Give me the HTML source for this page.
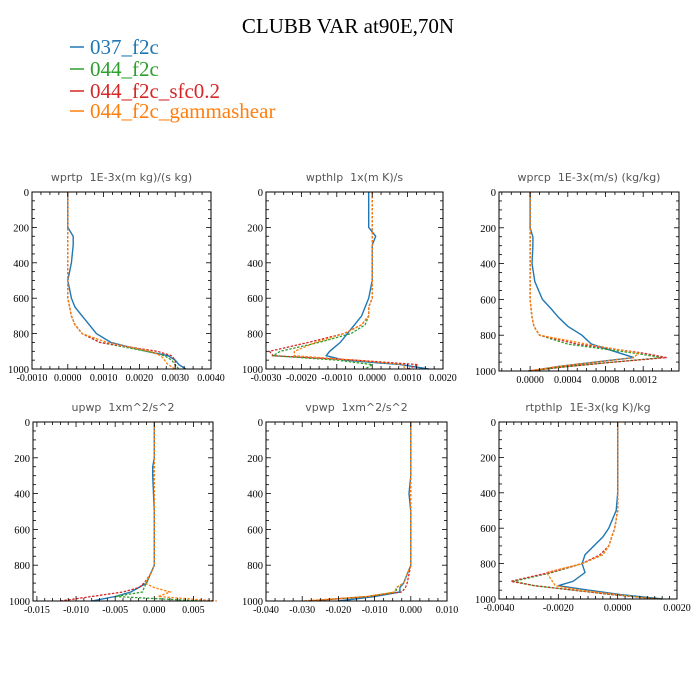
<!DOCTYPE html>
<html><head><meta charset="utf-8"><style>
body{margin:0;background:#fff;}
svg{display:block;}
</style></head><body>
<svg id="chart" width="700" height="700" xmlns="http://www.w3.org/2000/svg">
<rect width="700" height="700" fill="#fff"/>
<text x="348" y="33" font-family="Liberation Serif, serif" font-size="21" text-anchor="middle">CLUBB VAR at90E,70N</text>
<g font-family="Liberation Serif, serif" font-size="21">
<g><line x1="70" y1="47" x2="84" y2="47" stroke="#1f77b4" stroke-width="1.5"/><text x="90" y="54" fill="#1f77b4">037_f2c</text></g>
<g><line x1="70" y1="69" x2="84" y2="69" stroke="#2ca02c" stroke-width="1.5"/><text x="90" y="76" fill="#2ca02c">044_f2c</text></g>
<g><line x1="70" y1="91" x2="84" y2="91" stroke="#d62728" stroke-width="1.5"/><text x="90" y="98" fill="#d62728">044_f2c_sfc0.2</text></g>
<g><line x1="70" y1="111" x2="84" y2="111" stroke="#ff7f0e" stroke-width="1.5"/><text x="90" y="118" fill="#ff7f0e">044_f2c_gammashear</text></g>
</g>
</svg>
<script>
const levels = [0,100,200,250,300,400,500,600,650,700,750,800,850,900,925,950,975,1000];
const seriesNames = ['037_f2c','044_f2c','044_f2c_sfc0.2','044_f2c_gammashear'];
const colors = ['#1f77b4','#2ca02c','#d62728','#ff7f0e'];
const panelTitles = ['wprtp  1E-3x(m kg)/(s kg)','wpthlp  1x(m K)/s','wprcp  1E-3x(m/s) (kg/kg)','upwp  1xm^2/s^2','vpwp  1xm^2/s^2','rtpthlp  1E-3x(kg K)/kg'];
const yTicks = [0,200,400,600,800,1000];
const xTicks1 = [-0.001,0,0.001,0.002,0.003,0.004];
const xLabels1 = ['-0.0010','0.0000','0.0010','0.0020','0.0030','0.0040'];
const xTicks2 = [-0.003,-0.002,-0.001,0,0.001,0.002];
const xLabels2 = ['-0.0030','-0.0020','-0.0010','0.0000','0.0010','0.0020'];
const xTicks3 = [0,0.0004,0.0008,0.0012];
const xLabels3 = ['0.0000','0.0004','0.0008','0.0012'];
const xTicks4 = [-0.015,-0.01,-0.005,0,0.005];
const xLabels4 = ['-0.015','-0.010','-0.005','0.000','0.005'];
const xTicks5 = [-0.04,-0.03,-0.02,-0.01,0,0.01];
const xLabels5 = ['-0.040','-0.030','-0.020','-0.010','0.000','0.010'];
const xTicks6 = [-0.004,-0.002,0,0.002];
const xLabels6 = ['-0.0040','-0.0020','0.0000','0.0020'];
const wprtp037 = [0,0,0,0.00015,0.00015,0.0001,0,0.0001,0.0002,0.0004,0.0006,0.0008,0.0012,0.0022,0.0028,0.003,0.0031,0.0033];
const wprtp044 = [0,0,0,0,0,0,0,0,0.00005,0.0001,0.0002,0.0004,0.0009,0.0022,0.0027,0.0029,0.003,0.0031];
const wprtpSfc = [0,0,0,0,0,0,0,0,0.00005,0.0001,0.0002,0.0004,0.0009,0.0025,0.0029,0.003,0.003,0.003];
const wprtpGam = [0,0,0,0,0,0,0,0,0.00005,0.0001,0.0002,0.0004,0.0011,0.0023,0.0026,0.0027,0.0028,0.003];
const wpthlp037 = [-0.0001,-0.0001,-0.0001,0.0001,0,0,0,-0.0001,-0.0002,-0.0003,-0.0005,-0.0007,-0.0009,-0.0012,-0.0013,-0.0008,0.0008,0.0016];
const wpthlp044 = [0,0,0,0,0,0,0,0,-0.0001,-0.0001,-0.0002,-0.0006,-0.0015,-0.0026,-0.0028,-0.001,0.0,-0.0002];
const wpthlpSfc = [0,0,0,0,0,0,0,0,-0.0001,-0.0001,-0.0003,-0.0008,-0.0018,-0.0029,-0.0028,-0.0005,0.0013,0.001];
const wpthlpGam = [0,0,0,0,0,0,0,0,-0.0001,-0.0001,-0.0003,-0.0008,-0.0016,-0.0022,-0.0022,-0.0005,0.0009,0.0009];
const wprcp037 = [0,0,0,0.00003,0.00003,0.00002,0.00005,0.00013,0.00022,0.0003,0.0004,0.00055,0.00065,0.00095,0.0011,0.0007,0.0003,0];
const wprcp044 = [0,0,0,0,0,0,0,0,0.00001,0.00002,0.00004,0.0001,0.0004,0.0011,0.0014,0.0009,0.0004,-0.00002];
const wprcpSfc = [0,0,0,0,0,0,0,0,0.00001,0.00002,0.00004,0.0001,0.0005,0.0012,0.00145,0.0009,0.0004,-0.00002];
const wprcpGam = [0,0,0,0,0,0,0,0,0.00001,0.00002,0.00004,0.0001,0.0006,0.00115,0.0011,0.0007,0.0003,-0.00002];
const upwp037 = [0,0,0,-0.0002,-0.0002,-0.0001,0,0,0,0,0,0,-0.0005,-0.001,-0.002,-0.003,-0.005,-0.008];
const upwp044 = [0,0,0,0,0,0,0,0,0,0,0,0,-0.0005,-0.001,-0.0013,-0.0015,-0.005,0.006];
const upwpSfc = [0,0,0,0,0,0,0,0,0,0,0,0,-0.0005,-0.0013,-0.002,-0.004,-0.008,-0.012];
const upwpGam = [0,0,0,0,0,0,0,0,0,0,0,0,-0.0005,-0.0012,0.0,0.002,0.0005,0.008];
const vpwp037 = [0,0,0,0,0,-0.0005,0,0,0,0,0,0,-0.001,-0.002,-0.003,-0.003,-0.01,-0.02];
const vpwp044 = [0,0,0,0,0,0,0,0,0,0,0,0,-0.001,-0.002,-0.004,-0.004,-0.012,-0.028];
const vpwpSfc = [0,0,0,0,0,0,0,0,0,0,0,0,-0.0005,-0.001,-0.0015,-0.0025,-0.012,-0.028];
const vpwpGam = [0,0,0,0,0,0,0,0,0,0,0,0,-0.001,-0.002,-0.004,-0.0045,-0.012,-0.03];
const rtpthlp037 = [0,0,0,0,0,0,-0.00005,-0.0003,-0.0005,-0.0008,-0.0011,-0.0012,-0.0011,-0.0015,-0.002,-0.001,0.0001,0.0015];
const rtpthlp044 = [0,0,0,0,0,0,0,-0.0001,-0.0002,-0.0003,-0.0005,-0.0012,-0.0022,-0.0035,-0.0028,-0.0015,-0.0002,0.0015];
const rtpthlpSfc = [0,0,0,0,0,0,0,-0.0001,-0.0002,-0.0003,-0.0006,-0.0012,-0.0023,-0.0036,-0.0028,-0.0015,-0.0002,0.0014];
const rtpthlpGam = [0,0,0,0,0,0,0,-0.0001,-0.0002,-0.0003,-0.0005,-0.0012,-0.0024,-0.0022,-0.0021,-0.0013,0.0,0.0012];

const NS='http://www.w3.org/2000/svg';
const svg=document.getElementById('chart');
function mk(tag,attrs,parent){const e=document.createElementNS(NS,tag);for(const k in attrs)e.setAttribute(k,attrs[k]);(parent||svg).appendChild(e);return e;}

const panels=[
 {box:[32,192,211,369],xr:[-0.001,0.004],ticks:xTicks1,labels:xLabels1,minor:0.00025,data:[wprtp037,wprtp044,wprtpSfc,wprtpGam]},
 {box:[266,192,443,369],xr:[-0.003,0.002],ticks:xTicks2,labels:xLabels2,minor:0.00025,data:[wpthlp037,wpthlp044,wpthlpSfc,wpthlpGam]},
 {box:[499,192,679,371],xr:[-0.00033,0.00158],ticks:xTicks3,labels:xLabels3,minor:0.0001,data:[wprcp037,wprcp044,wprcpSfc,wprcpGam]},
 {box:[33,422,213,601],xr:[-0.0155,0.0075],ticks:xTicks4,labels:xLabels4,minor:0.001,data:[upwp037,upwp044,upwpSfc,upwpGam]},
 {box:[266,422,447,601],xr:[-0.04,0.01],ticks:xTicks5,labels:xLabels5,minor:0.0025,data:[vpwp037,vpwp044,vpwpSfc,vpwpGam]},
 {box:[499,422,677,599],xr:[-0.004,0.002],ticks:xTicks6,labels:xLabels6,minor:0.00025,data:[rtpthlp037,rtpthlp044,rtpthlpSfc,rtpthlpGam]}
];

panels.forEach((p,i)=>{
  const [x0,y0,x1,y1]=p.box;
  const g=mk('g',{});
  
  
  const xs=v=>x0+(v-p.xr[0])/(p.xr[1]-p.xr[0])*(x1-x0);
  const ys=v=>y0+v/1000*(y1-y0);
  const t=mk('text',{x:(x0+x1)/2,y:y0-11,'font-family':'DejaVu Sans, sans-serif','font-size':'11',fill:'#555','text-anchor':'middle'},g);
  t.textContent=panelTitles[i].replace(/  /g,'\u00a0\u00a0');
  
  
  p.data.forEach((arr,s)=>{
    const pts=arr.map((v,k)=>xs(v).toFixed(1)+','+ys(levels[k]).toFixed(1)).join(' ');
    const pl=mk('polyline',{points:pts,fill:'none',stroke:colors[s],'stroke-width':s===0?1.4:1.3,'stroke-dasharray':s===0?'none':'2.5,1.5'},g);
    
    
  });
  const fr=mk('rect',{x:x0,y:y0,width:x1-x0,height:y1-y0,fill:'none',stroke:'#000','stroke-width':1},g);
  
  
  for(let v=0;v<=1000;v+=50){
    const len=v%200===0?5:3;const y=ys(v);
    mk('line',{x1:x0,y1:y,x2:x0+len,y2:y,stroke:'#000','stroke-width':0.8},g);
    mk('line',{x1:x1,y1:y,x2:x1-len,y2:y,stroke:'#000','stroke-width':0.8},g);
  }
  yTicks.forEach(v=>{
    const tl=mk('text',{x:x0-3,y:ys(v)+4,'font-family':'Liberation Serif, serif','font-size':'10.5','text-anchor':'end'},g);
    tl.textContent=v;
    
    
  });
  const start=Math.ceil(p.xr[0]/p.minor-1e-6);
  for(let k=start;k*p.minor<=p.xr[1]+1e-12;k++){
    const v=k*p.minor;const x=xs(v);
    const major=p.ticks.some(tv=>Math.abs(tv-v)<p.minor*0.01);
    const len=major?5:3;
    mk('line',{x1:x,y1:y1,x2:x,y2:y1-len,stroke:'#000','stroke-width':0.8},g);
    mk('line',{x1:x,y1:y0,x2:x,y2:y0+len,stroke:'#000','stroke-width':0.8},g);
  }
  p.ticks.forEach((v,k)=>{
    const tl=mk('text',{x:xs(v),y:y1+12,'font-family':'Liberation Serif, serif','font-size':'10','text-anchor':'middle'},g);
    tl.textContent=p.labels[k];
    
    
  });
});
</script>
</body></html>
